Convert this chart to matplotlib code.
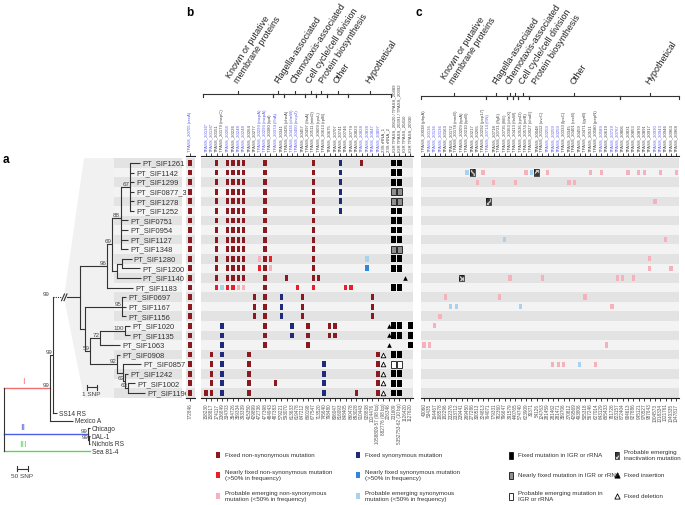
import matplotlib.pyplot as plt
from matplotlib.patches import Polygon, Rectangle
from matplotlib import font_manager

plt.rcParams['font.family'] = ['Liberation Sans', 'DejaVu Sans']
_installed = {f.name for f in font_manager.fontManager.ttflist}
HAS_NARROW = 'Liberation Sans Narrow' in _installed
NARROW = ['Liberation Sans Narrow', 'Liberation Sans'] if HAS_NARROW else ['Liberation Sans']

# ---------------- data ----------------
samples = ['PT_SIF1261', 'PT_SIF1142', 'PT_SIF1299', 'PT_SIF0877_3', 'PT_SIF1278', 'PT_SIF1252',
           'PT_SIF0751', 'PT_SIF0954', 'PT_SIF1127', 'PT_SIF1348', 'PT_SIF1280', 'PT_SIF1200',
           'PT_SIF1140', 'PT_SIF1183', 'PT_SIF0697', 'PT_SIF1167', 'PT_SIF1156', 'PT_SIF1020',
           'PT_SIF1135', 'PT_SIF1063', 'PT_SIF0908', 'PT_SIF0857', 'PT_SIF1242', 'PT_SIF1002',
           'PT_SIF1196']

# phylogeny of the PT clade (branch lengths in SNPs) and the outer tree (SNPs)
pt_newick = ("(((((PT_SIF1261:1.05,PT_SIF1142:0.42,PT_SIF1299:0.42,PT_SIF0877_3:0.42,"
             "PT_SIF1278:0.42,PT_SIF1252:0.42)67:0.95,PT_SIF0751:0.74,PT_SIF0954:0.74,"
             "PT_SIF1127:0.74,PT_SIF1348:0.74)88:0.95,((PT_SIF1280:1.0,PT_SIF1200:1.9):0.53,"
             "PT_SIF1140:2.5):0.53)69:0.53,PT_SIF1183:2.74)96:2.84,((PT_SIF0697:0.42,"
             "PT_SIF1167:0.42,PT_SIF1156:0.42)95:3.9,(((PT_SIF1020:0.53,PT_SIF1135:0.53)100:2.63,"
             "PT_SIF1063:2.1)72:1.05,(PT_SIF0908:0.32,(PT_SIF0857:1.9,(PT_SIF1242:0.32,"
             "(PT_SIF1002:0.74,PT_SIF1196:1.8)63:0.32)63:0.21):0.63)92:2.84)59:0.53):0.53);")
pt_support = '99'
outer_newick = ("(((PT:0,SS14 RS:18)99:14,Mexico A:105)99:209,"
                "(Chicago:8,(DAL-1:4,Nichols RS:4)99:4)99:382,Sea 81-4:391);")
outer_leaves = ['SS14 RS', 'Mexico A', 'Chicago', 'DAL-1', 'Nichols RS', 'Sea 81-4']
clade_names = ['I', 'II', 'III']
clade_colors = ['#f07070', '#4a5ee8', '#5fd35f']

# panel b: within-host-lineage fixed / nearly fixed / emerging mutations
b_genes = ['TPASS_20136*', 'TPASS_20136*', 'TPASS_20151', 'TPASS_20179 (mcpC)', 'TPASS_20204',
           'TPASS_20226', 'TPASS_20248', 'TPASS_20248', 'TPASS_20264', 'TPASS_20277',
           'TPASS_20293 (mcpA)', 'TPASS_20293 (mcpA)', 'TPASS_20380 (tpd)', 'TPASS_20374 (flhA)',
           'TPASS_20341', 'TPASS_20435 (cheA)', 'TPASS_20436 (cheW)', 'TPASS_20450 (mcp2)',
           'TPASS_20457', 'TPASS_20497 (ftsA)', 'TPASS_20511 (minD)', 'TPASS_20609 (rpsL)',
           'TPASS_20613 (rplB)', 'TPASS_20675', 'TPASS_20707', 'TPASS_20741', 'TPASS_20746',
           'TPASS_20779', 'TPASS_20823', 'TPASS_20828', 'TPASS_20838', 'TPASS_20847',
           'TPASS_20897', '23S rRNA_1', '23S rRNA_2', 'IGR TPASS_20620 / TPASS_20489',
           'IGR TPASS_20391 / TPASS_20392', 'IGR TPASS_20410', 'IGR TPASS_20930']
b_blue = [0, 1, 4, 6, 7, 10, 11, 13, 16, 17, 29, 30, 31, 32]
b_pos = ['158230', '158817', '174117', '236849', '334703', '354726', '359334', '393339',
         '415350', '429899', '472736', '477398', '484943', '487383', '579221', '593070',
         '613633', '619478', '647212', '660198', '677547', '713520', '745640', '798480',
         '806047', '816093', '848405', '860478', '893028', '910443', '928838', '1024476',
         '1058809-57 (98 bp)', '882776 (98 bp)', '226346', '231609', '5352753-62 (10 bp)',
         '1126420', '1127620']
b_groups = [('Known or putative\nmembrane proteins', 0, 12), ('Flagella-associated', 13, 14),
            ('Chemotaxis-associated', 15, 18), ('Cell cycle/cell division', 19, 20),
            ('Protein biosynthesis', 21, 22), ('Other', 23, 26), ('Hypothetical', 27, 34)]
recA_gene = 'TPASS_20705 (recA)'
recA_pos = '772846'

K = [2, 4, 5, 6, 7, 11, 20]
b_fixed_ns = {'PT_SIF1261': K + [29], 'PT_SIF1142': K, 'PT_SIF1299': K, 'PT_SIF0877_3': K,
              'PT_SIF1278': K, 'PT_SIF1252': K, 'PT_SIF0751': K, 'PT_SIF0954': K,
              'PT_SIF1127': K, 'PT_SIF1348': K, 'PT_SIF1280': K, 'PT_SIF1200': K,
              'PT_SIF1140': K + [15, 21], 'PT_SIF1183': [11],
              'PT_SIF0697': [9, 11, 18, 31], 'PT_SIF1167': [9, 11, 18, 31], 'PT_SIF1156': [9, 11, 18, 31],
              'PT_SIF1020': [11, 19, 23, 24], 'PT_SIF1135': [11, 19, 23, 24], 'PT_SIF1063': [11, 19],
              'PT_SIF0908': [1, 8, 32], 'PT_SIF0857': [1, 8, 32], 'PT_SIF1242': [1, 8, 32],
              'PT_SIF1002': [1, 8, 13, 32], 'PT_SIF1196': [0, 1, 8, 28, 32]}
b_near_ns = {'PT_SIF1280': [12], 'PT_SIF1200': [10], 'PT_SIF1183': [2, 4, 5, 17, 20, 26, 27]}
b_emerg_ns = {'PT_SIF1280': [10], 'PT_SIF1200': [12], 'PT_SIF1183': [6, 7]}
b_fixed_syn = {'PT_SIF1261': [25], 'PT_SIF1142': [25], 'PT_SIF1299': [25], 'PT_SIF0877_3': [25],
               'PT_SIF1278': [25], 'PT_SIF1252': [25], 'PT_SIF0697': [14], 'PT_SIF1167': [14],
               'PT_SIF1156': [14], 'PT_SIF1020': [3, 16], 'PT_SIF1135': [3, 16], 'PT_SIF1063': [3],
               'PT_SIF0908': [3], 'PT_SIF0857': [3, 22], 'PT_SIF1242': [3, 22], 'PT_SIF1002': [3, 22],
               'PT_SIF1196': [3, 22]}
b_near_syn = {'PT_SIF1200': [30]}
b_emerg_syn = {'PT_SIF1280': [30], 'PT_SIF1183': [3]}
b_igr_fixed = {'PT_SIF1261': [35, 36], 'PT_SIF1142': [35, 36], 'PT_SIF1299': [35, 36],
               'PT_SIF1252': [35, 36], 'PT_SIF0751': [35, 36], 'PT_SIF0954': [35, 36],
               'PT_SIF1127': [35, 36], 'PT_SIF1280': [35, 36], 'PT_SIF1200': [35, 36],
               'PT_SIF1183': [35, 36], 'PT_SIF1020': [35, 36, 38], 'PT_SIF1135': [35, 36, 38],
               'PT_SIF1063': [38], 'PT_SIF0908': [35, 36], 'PT_SIF1242': [35, 36],
               'PT_SIF1002': [35, 36], 'PT_SIF1196': [35, 36]}
b_igr_near = {'PT_SIF0877_3': [35, 36], 'PT_SIF1278': [35, 36], 'PT_SIF1348': [35, 36]}
b_igr_emerg = {'PT_SIF0857': [35, 36]}
b_insert = {'PT_SIF1140': [37], 'PT_SIF1020': [34], 'PT_SIF1135': [34], 'PT_SIF1063': [34]}
b_delete = {'PT_SIF0908': [33], 'PT_SIF0857': [33], 'PT_SIF1242': [33], 'PT_SIF1002': [33],
            'PT_SIF1196': [33]}

# panel c: mutations private to single samples
c_genes = ['TPASS_20038 (pbpA)', 'TPASS_20136', 'TPASS_20136', 'TPASS_20136', 'TPASS_20163',
           'TPASS_20172', 'TPASS_20178 (mrcB)', 'TPASS_20209 (tprA)', 'TPASS_20210 (tprB)',
           'TPASS_20217', 'TPASS_20265', 'TPASS_20292 (pcp17)', 'TPASS_20714 (fliN)',
           'TPASS_20718', 'TPASS_20721 (flgE)', 'TPASS_20735 (fliE)', 'TPASS_20363 (cheX)',
           'TPASS_20413 (ftsW)', 'TPASS_20536 (rpsD)', 'TPASS_20574 (infB)', 'TPASS_20027 (dnaE)',
           'TPASS_20048', 'TPASS_20112 (uvrC)', 'TPASS_20259', 'TPASS_20259', 'TPASS_20259',
           'TPASS_20333 (lpxC)', 'TPASS_20345', 'TPASS_20401 (recB)', 'TPASS_20459',
           'TPASS_20471 (gyrB)', 'TPASS_20531', 'TPASS_20580 (pepN)', 'TPASS_20589',
           'TPASS_20619', 'TPASS_20729', 'TPASS_20767', 'TPASS_20806', 'TPASS_20831',
           'TPASS_20853', 'TPASS_20870', 'TPASS_20891', 'TPASS_20917', 'TPASS_20930',
           'TPASS_20943', 'TPASS_20946', 'TPASS_20963', 'TPASS_20968']
c_blue = [1, 2, 3, 12, 23, 24, 25, 33, 35, 36, 43, 44]
c_pos = ['43060', '53435', '164467', '168578', '182296', '232376', '233712', '239441',
         '269450', '277286', '300513', '324813', '764071', '779331', '782360', '796647',
         '391579', '440765', '574740', '623909', '30371', '54126', '124763', '281459',
         '281462', '281471', '359706', '370812', '429569', '493806', '505318', '567246',
         '627014', '643129', '665433', '781726', '823157', '872404', '904613', '927886',
         '945121', '970527', '987643', '1004573', '1018334', '1021761', '1040335', '1047817']
c_groups = [('Known or putative\nmembrane proteins', 0, 11), ('Flagella-associated', 12, 15),
            ('Chemotaxis-associated', 16, 16), ('Cell cycle/cell division', 17, 17),
            ('Protein biosynthesis', 18, 19), ('Other', 20, 36), ('Hypothetical', 37, 47)]
c_emerg_ns = {'PT_SIF1142': [11, 19, 23, 31, 33, 38, 40, 41, 44, 47],
              'PT_SIF1299': [10, 13, 17, 27, 28], 'PT_SIF1278': [43], 'PT_SIF1127': [45],
              'PT_SIF1280': [42], 'PT_SIF1200': [42, 46], 'PT_SIF1140': [16, 22, 36, 37, 39],
              'PT_SIF0697': [4, 14, 30], 'PT_SIF1167': [35], 'PT_SIF1156': [3],
              'PT_SIF1020': [2], 'PT_SIF1063': [0, 1, 34], 'PT_SIF0857': [24, 25, 26, 32]}
c_emerg_syn = {'PT_SIF1142': [8, 20], 'PT_SIF1127': [15], 'PT_SIF1167': [5, 6, 18],
               'PT_SIF0857': [29]}
c_inact = {'PT_SIF1142': [9, 21], 'PT_SIF1278': [12], 'PT_SIF1140': [7]}

DKRED, RED, PINK = '#8a1a1f', '#e8202a', '#f5b2bd'
NAVY, BLUE, LBLUE = '#1f2a7c', '#2f86e0', '#a8d2f0'
BAND = ['#e3e3e3', '#f3f3f3']
GENE_BLUE, GENE_GREY = '#5b5bf0', '#444444'

# ---------------- layout ----------------
W, H = 685, 506
fig = plt.figure(figsize=(W / 100, H / 100), dpi=100)
Y0, Y1 = 159.2, 398.7          # top/bottom of the sample rows (px)
nrow = len(samples)


def px_axes(x0, x1):
    ax = fig.add_axes([x0 / W, 1 - Y1 / H, (x1 - x0) / W, (Y1 - Y0) / H])
    ax.set_facecolor('none')
    ax.set_ylim(nrow - 0.5, -0.5)
    return ax


def fy(ypx):
    return (Y1 - ypx) / (Y1 - Y0)


cv = fig.add_axes([0, 0, 1, 1])
cv.set_xlim(0, W)
cv.set_ylim(H, 0)
cv.axis('off')

# ---------------- panel a: tree ----------------
def parse_newick(s):
    s = s.strip().rstrip(';')
    pos = 0

    def node():
        nonlocal pos
        kids = []
        if s[pos] == '(':
            pos += 1
            while True:
                kids.append(node())
                if s[pos] == ',':
                    pos += 1
                    continue
                pos += 1
                break
        start = pos
        while pos < len(s) and s[pos] not in ',():':
            pos += 1
        label = s[start:pos]
        length = 0.0
        if pos < len(s) and s[pos] == ':':
            pos += 1
            start = pos
            while pos < len(s) and s[pos] not in ',()':
                pos += 1
            length = float(s[start:pos])
        return {'label': label, 'len': length, 'kids': kids}
    return node()


def layout(n, x_parent, scale, leaf_y):
    n['x'] = x_parent + n['len'] * scale
    if n['kids']:
        for k in n['kids']:
            layout(k, n['x'], scale, leaf_y)
        n['y'] = (n['kids'][0]['y'] + n['kids'][-1]['y']) / 2
    else:
        n['y'] = leaf_y[n['label']]


ta = px_axes(0, 185)
ta.set_xlim(0, 185)
ta.axis('off')
LC = '#333333'

pt = parse_newick(pt_newick)
layout(pt, 80, 9.5, {s: i for i, s in enumerate(samples)})
outer = parse_newick(outer_newick)
oy = {name: 26.1 + 0.8 * i for i, name in enumerate(outer_leaves)}
oy['PT'] = pt['y']
layout(outer, 4, 0.22, oy)

# light wedge behind the clade and the label bands
ta.add_patch(Polygon([(64, pt['y']), (84, -0.5), (114, -0.5), (114, nrow - 0.5), (84, nrow - 0.5)],
                     closed=True, fc='#f1f1f1', ec='none', zorder=0))
ta.barh(range(nrow), 68, left=114, height=1.0, color=[BAND[i % 2] for i in range(nrow)], zorder=0)


def draw_tree(n, small):
    for k in n['kids']:
        if k['label'] == 'PT':
            continue
        ta.plot([n['x'], k['x']], [k['y'], k['y']], color=LC, lw=0.8, clip_on=False,
                solid_capstyle='butt')
        draw_tree(k, small)
        if not k['kids']:
            ta.text(k['x'] + 2, k['y'], k['label'], fontsize=5.4 if not small else 4.7,
                    color='#333333', va='center', ha='left', clip_on=False)
    if n['kids']:
        ta.plot([n['x'], n['x']], [n['kids'][0]['y'], n['kids'][-1]['y']], color=LC, lw=0.8,
                clip_on=False)
        if n['label']:
            ta.text(n['x'] - 0.8, n['y'] - 0.1, n['label'], fontsize=4.5, color='#444444',
                    ha='right', va='bottom', clip_on=False)


draw_tree(pt, False)
# outer tree: coloured clade branches from the root
for k, col, cname in zip(outer['kids'], clade_colors, clade_names):
    ta.plot([outer['x'], k['x']], [k['y'], k['y']], color=col, lw=1.0, clip_on=False)
    ta.text(23, k['y'] - 0.3, cname, color=col, fontsize=6.5, ha='center', va='bottom')
    if k['kids']:
        draw_tree(k, True)
    else:
        ta.text(k['x'] + 2, k['y'], k['label'], fontsize=4.7, color='#333333', va='center')
ta.plot([outer['x']] * 2, [outer['kids'][0]['y'], outer['kids'][-1]['y']], color=LC, lw=0.8,
        clip_on=False)
# broken branch leading to the PT clade
n2 = outer['kids'][0]['kids'][0]
ta.plot([n2['x'], 61], [pt['y']] * 2, color=LC, lw=0.8, ls=(0, (1, 1)), clip_on=False)
ta.plot([67, pt['x']], [pt['y']] * 2, color=LC, lw=0.8, clip_on=False)
for dx in (0, 2.5):
    ta.plot([61.5 + dx, 64.5 + dx], [pt['y'] + 0.35, pt['y'] - 0.35], color=LC, lw=0.8)
ta.text(n2['x'] - 4, pt['y'] - 0.1, pt_support, fontsize=4.5, color='#444444', ha='right',
        va='bottom')

# scale bars
for x0, length, yb, txt in [(87, 9.5, 23.4, '1 SNP'), (17, 11, 31.9, '50 SNP')]:
    ta.plot([x0, x0 + length], [yb, yb], color=LC, lw=0.8, clip_on=False)
    ta.plot([x0, x0], [yb - 0.25, yb + 0.25], color=LC, lw=0.8, clip_on=False)
    ta.plot([x0 + length] * 2, [yb - 0.25, yb + 0.25], color=LC, lw=0.8, clip_on=False)
    ta.text(x0 + length / 2, yb + 0.45, txt, fontsize=4.6, color='#444444', ha='center',
            va='top', clip_on=False)

# ---------------- panels b and c ----------------
STEP = 5.37


def grid_axes(x0, x1, first_px):
    ax = px_axes(x0, x1)
    ax.set_xlim((x0 - first_px) / STEP, (x1 - first_px) / STEP)
    for i in range(nrow):
        ax.axhspan(i - 0.5, i + 0.5, color=BAND[i % 2], lw=0, zorder=0)
    for sp in ('left', 'right', 'top'):
        ax.spines[sp].set_visible(False)
    ax.spines['bottom'].set_linewidth(0.8)
    ax.spines['bottom'].set_color('#222222')
    ax.set_yticks([])
    return ax


def gene_ticks(ax, genes, pos, blue):
    n = len(genes)
    ax.set_xticks(range(n))
    ax.set_xticklabels(pos, rotation=90, fontsize=3.3, color='#555555')
    ax.tick_params(axis='x', length=2.5, width=0.6, pad=1, color='#222222')
    top = ax.secondary_xaxis(1 + 2.2 / (Y1 - Y0))
    top.set_xticks(range(n))
    top.set_xticklabels(genes, rotation=90, fontsize=3.1)
    top.tick_params(axis='x', length=2.5, width=0.6, pad=1, color='#222222')
    top.spines['top'].set_linewidth(0.8)
    top.spines['top'].set_color('#222222')
    for i, lab in enumerate(top.get_xticklabels()):
        lab.set_color(GENE_BLUE if i in blue else GENE_GREY)


def marks(ax, d, color, w=0.62, h=0.6, **kw):
    xs, ys = [], []
    for name, cols in d.items():
        for c in cols:
            xs.append(c)
            ys.append(samples.index(name) - h / 2)
    ax.bar(xs, h, width=w, bottom=ys, color=color, zorder=3, **kw)


def points(ax, d, **kw):
    xs, ys = [], []
    for name, cols in d.items():
        for c in cols:
            xs.append(c)
            ys.append(samples.index(name))
    ax.scatter(xs, ys, zorder=4, **kw)


def brackets(ax, groups, ybr, ytxt):
    tr = ax.get_xaxis_transform()
    yb = fy(ybr)
    dy = 3 / (Y1 - Y0)
    prev = -1e9
    for name, a, b in groups:
        c = (a + b) / 2
        ax.plot([a - 0.5, b + 0.5], [yb, yb], color='#333333', lw=0.8, transform=tr, clip_on=False)
        for e in (a - 0.5, b + 0.5):
            ax.plot([e, e], [yb, yb - dy], color='#333333', lw=0.8, transform=tr, clip_on=False)
        ax.plot([c, c], [yb, yb + dy], color='#333333', lw=0.8, transform=tr, clip_on=False)
        # keep neighbouring slanted titles apart (at least ~13 px)
        xt = max(c + 0.3, prev + 13 / STEP)
        prev = xt
        ax.text(xt, fy(ytxt), name, transform=tr, rotation=57, rotation_mode='anchor',
                ha='left', va='bottom', fontsize=6.5, color='#222222', linespacing=1.05)


# recA column
ra = grid_axes(185.5, 195, 190)
gene_ticks(ra, [recA_gene], [recA_pos], [0])
marks(ra, {s: [0] for s in samples}, DKRED)

# panel b
bx = grid_axes(201, 413, 206)
gene_ticks(bx, b_genes, b_pos, b_blue)
marks(bx, b_fixed_ns, DKRED)
marks(bx, b_near_ns, RED)
marks(bx, b_emerg_ns, PINK)
marks(bx, b_fixed_syn, NAVY)
marks(bx, b_near_syn, BLUE)
marks(bx, b_emerg_syn, LBLUE)
marks(bx, b_igr_fixed, 'black', w=0.92, h=0.7)
marks(bx, b_igr_near, '#8f8f8f', w=0.92, h=0.7, edgecolor='#111111', linewidth=0.6)
marks(bx, b_igr_emerg, 'white', w=0.92, h=0.7, edgecolor='#111111', linewidth=0.6)
points(bx, b_insert, marker='^', s=11, color='black', linewidths=0)
points(bx, b_delete, marker='^', s=11, facecolor='white', edgecolor='black', linewidths=0.6)
brackets(bx, b_groups, 94.5, 85)

# panel c
cx = grid_axes(421, 679, 424)
gene_ticks(cx, c_genes, c_pos, c_blue)
marks(cx, c_emerg_ns, PINK, w=0.6, h=0.55)
marks(cx, c_emerg_syn, LBLUE, w=0.6, h=0.55)
marks(cx, c_inact, '#3a3a3a', w=0.85, h=0.72, edgecolor='#c8c8c8', hatch='xxxx', linewidth=0)
marks(cx, c_inact, 'none', w=0.85, h=0.72, edgecolor='#111111', linewidth=0.5)
brackets(cx, c_groups, 96.5, 86)

# panel letters
for x, y, t in [(3, 160, 'a'), (186, 13, 'b'), (416, 13, 'c')]:
    cv.text(x, y, t, fontsize=8.5, fontweight='bold', va='center', ha='left')

# ---------------- legend ----------------
leg_x = [218, 358, 511, 617]
leg_y = [456, 476, 497]
leg_labels = [
    ['Fixed non-synonymous mutation', 'Nearly fixed non-synonymous mutation\n(>50% in frequency)',
     'Probable emerging non-synonymous\nmutation (<50% in frequency)'],
    ['Fixed synonymous mutation', 'Nearly fixed synonymous mutation\n(>50% in frequency)',
     'Probable emerging synonymous\nmutation (<50% in frequency)'],
    ['Fixed mutation in IGR or rRNA', 'Nearly fixed mutation in IGR or rRNA',
     'Probable emerging mutation in\nIGR or rRNA'],
    ['Probable emerging\ninactivation mutation', 'Fixed insertion', 'Fixed deletion'],
]
leg_kinds = [[('bar', DKRED), ('bar', RED), ('bar', PINK)],
             [('bar', NAVY), ('bar', BLUE), ('bar', LBLUE)],
             [('igr', 'black'), ('igr', '#8f8f8f'), ('igr', 'white')],
             [('inact', '#3a3a3a'), ('tri', 'black'), ('tri', 'white')]]
leg_fs = 5.5 if HAS_NARROW else 4.5
for ci, x in enumerate(leg_x):
    for ri, y in enumerate(leg_y):
        kind, col = leg_kinds[ci][ri]
        if kind == 'bar':
            cv.add_patch(Rectangle((x - 1.7, y - 3.3), 3.4, 6.6, fc=col, ec='none'))
        elif kind == 'igr':
            cv.add_patch(Rectangle((x - 2.2, y - 3.5), 4.4, 7, fc=col, ec='#111111', lw=0.6))
        elif kind == 'inact':
            cv.add_patch(Rectangle((x - 2.2, y - 3.5), 4.4, 7, fc=col, ec='#c8c8c8', hatch='xxxx', lw=0))
            cv.add_patch(Rectangle((x - 2.2, y - 3.5), 4.4, 7, fc='none', ec='#111111', lw=0.5))
        else:
            cv.scatter([x], [y], marker='^', s=14, facecolor=col, edgecolor='black', linewidths=0.6)
        cv.text(x + 7, y, leg_labels[ci][ri], fontsize=leg_fs, family=NARROW, color='#333333',
                va='center', ha='left', linespacing=1.25)

fig.savefig('out.png', dpi=100)
